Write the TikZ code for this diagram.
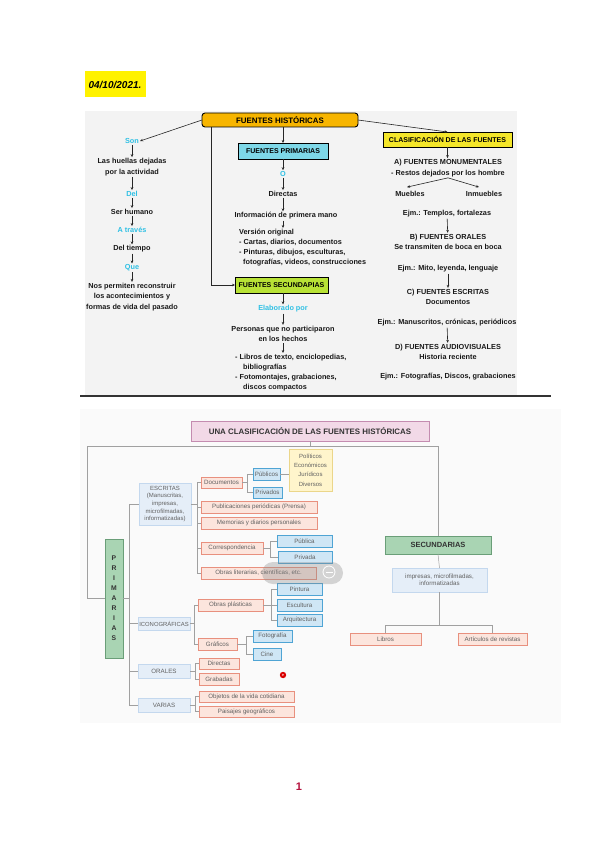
\documentclass[tikz,border=0pt]{standalone}
\usepackage{fontspec}
\setmainfont{Liberation Sans}
\usetikzlibrary{arrows.meta,calc}
\definecolor{orgF}{HTML}{F7B500}
\definecolor{cyF}{HTML}{7ED8E8}
\definecolor{gyF}{HTML}{B8E236}
\definecolor{ylF}{HTML}{F4E62A}
\definecolor{cyanT}{HTML}{2FC0E4}
\definecolor{panel}{HTML}{F3F3F3}
\definecolor{pinkF}{HTML}{F2D9E7}
\definecolor{pinkD}{HTML}{C48CB0}
\definecolor{salF}{HTML}{FCE5DD}
\definecolor{salD}{HTML}{E8907E}
\definecolor{bluF}{HTML}{CFE6F5}
\definecolor{bluD}{HTML}{4FA4D4}
\definecolor{lblF}{HTML}{E5EEF8}
\definecolor{lblD}{HTML}{C4D8EE}
\definecolor{grnF}{HTML}{A9D4B3}
\definecolor{grnD}{HTML}{6A9E78}
\definecolor{yelF}{HTML}{FFF5CC}
\definecolor{yelD}{HTML}{EBD68A}
\definecolor{lnC}{HTML}{A0A0A0}
\definecolor{crim}{HTML}{B5123E}
\newcommand{\mybox}[7]{\node[#6,minimum width={#4-#2},minimum height={#5-#3}] (#1) at ({(#2+#4)/2},{(#3+#5)/2}) {#7};}
\begin{document}
\begin{tikzpicture}[x=1pt,y=-1pt,
 tx/.style={font=\fontsize{7.3}{10.5}\selectfont\bfseries, inner sep=1pt, align=center, text=black!90},
 cy/.style={tx, text=cyanT},
 arr/.style={-{Stealth[length=3pt,width=2.6pt]}, line width=0.6pt, draw=black!85},
 tbox/.style={draw=black, line width=0.9pt, font=\fontsize{7}{8}\selectfont\bfseries, inner sep=1pt, outer sep=0pt},
 bt/.style={font=\fontsize{6.2}{7.2}\selectfont, text=black!62, inner sep=0.8pt, align=center, line width=0.8pt, outer sep=0pt},
 sal/.style={bt, draw=salD, fill=salF},
 blu/.style={bt, draw=bluD, fill=bluF},
 lbl/.style={bt, draw=lblD, fill=lblF},
 grn/.style={bt, draw=grnD, fill=grnF, text=black!80, font=\fontsize{6.5}{10}\selectfont\bfseries},
 yel/.style={bt, draw=yelD, fill=yelF, font=\fontsize{6}{9.3}\selectfont},
 ln/.style={line width=0.5pt, draw=lnC}]
\useasboundingbox (0,0) rectangle (599,848);
\fill[white] (0,0) rectangle (599,848);
% date
\fill[yellow] (85,71) rectangle (146,97);
\node[font=\fontsize{10}{12}\selectfont\itshape\bfseries, inner sep=0pt] (date) at (115,85) {04/10/2021.};
% ---------- top panel ----------
\fill[panel] (85,111) rectangle (517,395);
\draw[black!80, line width=1.2pt] (80,396) -- (551,396);
\mybox{fh}{202}{113}{358}{127}{tbox, fill=orgF, rounded corners=3pt, font=\fontsize{7.9}{9}\selectfont\bfseries}{FUENTES HISTÓRICAS}
\mybox{fp}{238}{143}{328}{159}{tbox, fill=cyF}{FUENTES PRIMARIAS}
\mybox{fs}{235}{277}{328}{293}{tbox, fill=gyF}{FUENTES SECUNDAPIAS}
\mybox{cl}{383}{132}{512}{147}{tbox, fill=ylF}{CLASIFICACIÓN DE LAS FUENTES}
% left column
\node[cy] (son) at (132,141) {Son};
\node[tx] (hue) at (132,167) {Las huellas dejadas\\por la actividad};
\node[cy] (del) at (132,194) {Del};
\node[tx] (ser) at (132,212) {Ser humano};
\node[cy] (atr) at (132,230) {A través};
\node[tx] (tie) at (132,249) {Del tiempo};
\node[cy] (que) at (132,268) {Que};
\node[tx] (nos) at (132,297) {Nos permiten reconstruir\\los acontecimientos y\\formas de vida del pasado};
% middle column
\node[cy] (oo) at (283,174) {O};
\node[tx] (dir) at (283,194) {Directas};
\node[tx] (inf) at (286,216) {Información de primera mano};
\node[tx, align=left, anchor=north west, font=\fontsize{7.3}{10}\selectfont\bfseries] (ver) at (238,228) {Versión original\\- Cartas, diarios, documentos\\- Pinturas, dibujos, esculturas,\\\hspace*{4pt}fotografías, videos, construcciones};
\node[cy] (ela) at (283,309) {Elaborado por};
\node[tx] (per) at (283,334) {Personas que no participaron\\en los hechos};
\node[tx, align=left, anchor=north west, font=\fontsize{7.3}{10}\selectfont\bfseries] (lib) at (234,353) {- Libros de texto, enciclopedias,\\\hspace*{8pt}bibliografías\\- Fotomontajes, grabaciones,\\\hspace*{8pt}discos compactos};
% right column
\node[tx] (amon) at (448,168) {A) FUENTES MONUMENTALES\\- Restos dejados por los hombre};
\node[tx] (mue) at (410,194) {Muebles};
\node[tx] (inm) at (484,194) {Inmuebles};
\node[tx] (ejt) at (447,214) {Ejm.: Templos, fortalezas};
\node[tx] (bor) at (448,242) {B) FUENTES ORALES\\Se transmiten de boca en boca};
\node[tx] (ejm) at (448,269) {Ejm.: Mito, leyenda, lenguaje};
\node[tx] (cesc) at (448,297) {C) FUENTES ESCRITAS\\Documentos};
\node[tx] (ejmn) at (447,323) {Ejm.: Manuscritos, crónicas, periódicos};
\node[tx] (dau) at (448,352) {D) FUENTES AUDIOVISUALES\\Historia reciente};
\node[tx] (ejf) at (448,377) {Ejm.: Fotografías, Discos, grabaciones};
% top arrows
\draw[arr] (fh.west) -- (son.east);
\draw[arr] (fh.east) -- (cl.north);
\draw[arr] (fp.north |- fh.south) -- (fp.north);
\draw[arr] ($(fh.south west)+(9,0)$) |- (fs.west);
\draw[arr] (son) -- (hue);
\draw[arr] (hue) -- (del);
\draw[arr] (del) -- (ser);
\draw[arr] (ser) -- (atr);
\draw[arr] (atr) -- (tie);
\draw[arr] (tie) -- (que);
\draw[arr] (que) -- (nos);
\draw[arr] (fp) -- (oo);
\draw[arr] (oo) -- (dir);
\draw[arr] (dir.south) -- (dir.south |- inf.north);
\draw[arr] (inf.south -| dir.south) -- (dir.south |- ver.north);
\draw[arr] (fs.south -| oo.south) -- (oo.south |- ela.north);
\draw[arr] (ela) -- (per);
\draw[arr] (per.south) -- (per.south |- lib.north);
\draw[arr] (cl.south) -- (cl.south |- amon.north);
\draw[arr] (amon.south) -- ($(mue.north)+(-3,-3)$);
\draw[arr] (amon.south) -- ($(inm.north)+(-5,-3)$);
\draw[arr] (ejt) -- (bor);
\draw[arr] (ejm) -- (cesc);
\draw[arr] (ejmn) -- (dau);
% ---------- bottom panel ----------
\fill[black!2] (80,409) rectangle (561,723);
\mybox{tit}{191}{421}{429}{441}{bt, draw=pinkD, fill=pinkF, text=black!80, font=\fontsize{7.9}{9}\selectfont\bfseries}{UNA CLASIFICACIÓN DE LAS FUENTES HISTÓRICAS}
\mybox{prim}{105}{539}{123}{658}{grn, font=\fontsize{6.8}{10}\selectfont\bfseries}{P\\R\\I\\M\\A\\R\\I\\A\\S}
\mybox{sec}{385}{536}{491}{554}{grn, font=\fontsize{7.5}{9}\selectfont\bfseries}{SECUNDARIAS}
\mybox{esc}{139}{483}{191}{525}{lbl, font=\fontsize{6}{7.6}\selectfont}{ESCRITAS\\(Manuscritas,\\impresas,\\microfilmadas,\\informatizadas)}
\mybox{ico}{138}{617}{190}{630}{lbl, font=\fontsize{5.9}{7}\selectfont}{ICONOGRÁFICAS}
\mybox{ora}{138}{664}{190}{678}{lbl}{ORALES}
\mybox{var}{138}{698}{190}{712}{lbl}{VARIAS}
\mybox{doc}{201}{477}{242}{488}{sal}{Documentos}
\mybox{pub}{253}{468}{280}{480}{blu}{Públicos}
\mybox{pri}{253}{487}{282}{498}{blu}{Privados}
\mybox{pol}{289}{449}{332}{491}{yel}{Políticos\\Económicos\\Jurídicos\\Diversos}
\mybox{pubp}{201}{501}{317}{513}{sal}{Publicaciones periódicas (Prensa)}
\mybox{mem}{201}{517}{317}{529}{sal}{Memorias y diarios personales}
\mybox{cor}{201}{542}{263}{554}{sal}{Correspondencia}
\mybox{pca}{277}{535}{332}{547}{blu}{Pública}
\mybox{pva}{278}{551}{332}{563}{blu}{Privada}
\mybox{obr}{201}{567}{316}{579}{sal}{Obras literarias, científicas, etc.}
\mybox{obp}{198}{599}{263}{611}{sal}{Obras plásticas}
\mybox{pin}{277}{583}{322}{595}{blu}{Pintura}
\mybox{escu}{277}{599}{322}{611}{blu}{Escultura}
\mybox{arq}{277}{614}{322}{626}{blu}{Arquitectura}
\mybox{gra}{198}{638}{237}{650}{sal}{Gráficos}
\mybox{fot}{253}{630}{292}{642}{blu}{Fotografía}
\mybox{cin}{253}{648}{281}{660}{blu}{Cine}
\mybox{dia}{199}{658}{239}{669}{sal}{Directas}
\mybox{grab}{199}{673}{239}{685}{sal}{Grabadas}
\mybox{obj}{199}{691}{294}{702}{sal}{Objetos de la vida cotidiana}
\mybox{pai}{199}{706}{294}{717}{sal}{Paisajes geográficos}
\mybox{imp}{392}{568}{487}{592}{lbl}{impresas, microfilmadas,\\informatizadas}
\mybox{libr}{350}{633}{421}{645}{sal}{Libros}
\mybox{art}{458}{633}{527}{645}{sal}{Artículos de revistas}
% bottom connectors
\draw[ln] (tit.south) -- ++(0,5) -| (sec.north);
\draw[ln] (tit.south) -- ++(0,5) -| ($(prim.west)+(-18,0)$) -- (prim.west);
\coordinate (sp) at (129,0);
\draw[ln] (prim.east) -- (sp |- prim.east);
\draw[ln] (sp |- esc.west) -- (sp |- var.west);
\foreach \n in {esc,ico,ora,var} \draw[ln] (sp |- \n.west) -- (\n.west);
\coordinate (s1) at (197,0);
\draw[ln] (esc.east) -- (s1 |- esc.east);
\draw[ln] (s1 |- doc.west) -- (s1 |- obr.west);
\foreach \n in {doc,pubp,mem,cor,obr} \draw[ln] (s1 |- \n.west) -- (\n.west);
\coordinate (s2) at (247,0);
\draw[ln] (doc.east) -- (s2 |- doc.east);
\draw[ln] (s2 |- pub.west) -- (s2 |- pri.west);
\foreach \n in {pub,pri} \draw[ln] (s2 |- \n.west) -- (\n.west);
\draw[ln] (pub.east) -- (pub.east -| pol.west);
\coordinate (s3) at (270,0);
\draw[ln] (cor.east) -- (s3 |- cor.east);
\draw[ln] (s3 |- pca.west) -- (s3 |- pva.west);
\foreach \n in {pca,pva} \draw[ln] (s3 |- \n.west) -- (\n.west);
\coordinate (s4) at (194,0);
\draw[ln] (ico.east) -- (s4 |- ico.east);
\draw[ln] (s4 |- obp.west) -- (s4 |- gra.west);
\foreach \n in {obp,gra} \draw[ln] (s4 |- \n.west) -- (\n.west);
\coordinate (s5) at (271,0);
\draw[ln] (obp.east) -- (s5 |- obp.east);
\draw[ln] (s5 |- pin.west) -- (s5 |- arq.west);
\foreach \n in {pin,escu,arq} \draw[ln] (s5 |- \n.west) -- (\n.west);
\coordinate (s6) at (246,0);
\draw[ln] (gra.east) -- (s6 |- gra.east);
\draw[ln] (s6 |- fot.west) -- (s6 |- cin.west);
\foreach \n in {fot,cin} \draw[ln] (s6 |- \n.west) -- (\n.west);
\coordinate (s7) at (195,0);
\draw[ln] (ora.east) -- (s7 |- ora.east);
\draw[ln] (s7 |- dia.west) -- (s7 |- grab.west);
\foreach \n in {dia,grab} \draw[ln] (s7 |- \n.west) -- (\n.west);
\draw[ln] (var.east) -- (s7 |- var.east);
\draw[ln] (s7 |- obj.west) -- (s7 |- pai.west);
\foreach \n in {obj,pai} \draw[ln] (s7 |- \n.west) -- (\n.west);
\draw[ln] (sec.south) -- (imp.north);
\draw[ln] (imp.south) -- ++(0,33) -| (libr.north);
\draw[ln] (imp.south) -- ++(0,33) -| (art.north);
% overlay artefacts
\fill[black!45, opacity=0.35, rounded corners=11pt] (262,562) rectangle (343,584);
\draw[white, line width=0.8pt] (329,572) circle (6);
\draw[white, line width=0.8pt] (325.5,572) -- (332.5,572);
\fill[red!85!black] (283,675) circle (3.2);
\node[text=white, font=\fontsize{4}{4}\selectfont, inner sep=0pt] (rd) at (283,675) {e};
% page number
\node[text=crim, font=\fontsize{11}{12}\selectfont\bfseries, inner sep=0pt] (pg) at (299,787) {1};
\end{tikzpicture}
\end{document}
